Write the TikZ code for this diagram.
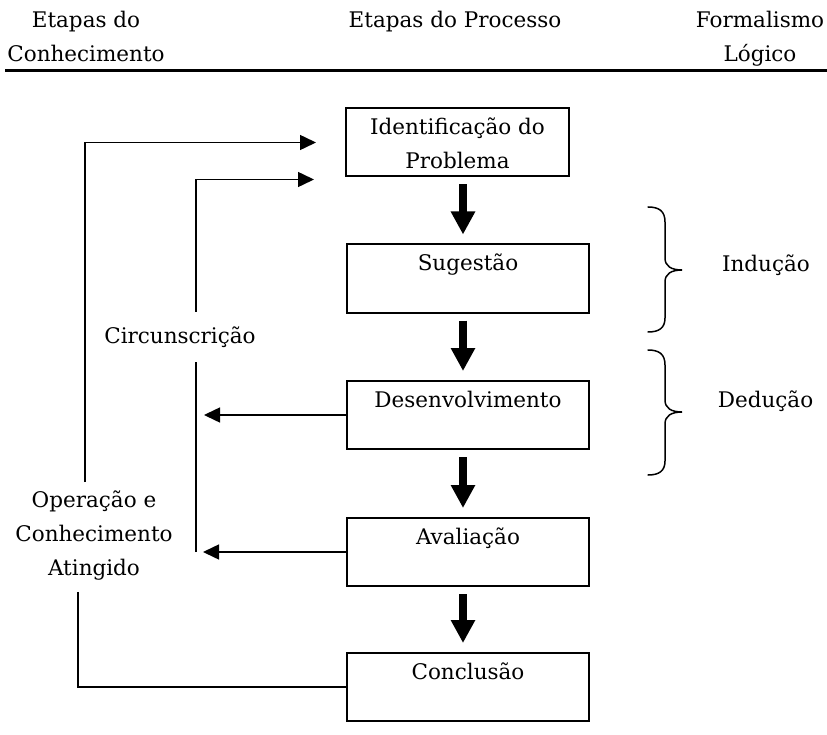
\documentclass[tikz,border=0pt]{standalone}
\usepackage{fontspec}
\setmainfont{DejaVu Serif}
\usetikzlibrary{arrows.meta,calc}
\begin{document}
\begin{tikzpicture}[x=1pt,y=-1pt,
  lbl/.style={font=\fontsize{21.5}{34}\selectfont, inner sep=0pt, align=center},
  stage/.style={draw, line width=2pt, minimum width=242pt, minimum height=68pt, inner sep=0pt},
  bigarrow/.style={line width=7.5pt, -{Triangle[length=23pt,width=23pt]},
                   shorten <=7pt, shorten >=9pt},
  thinarrow/.style={line width=1.5pt, -{Triangle[length=16pt,width=15pt]}},
  thinline/.style={line width=1.5pt},
  bracepath/.style={line width=1.5pt, line cap=round}
]
\useasboundingbox (0,0) rectangle (827,735);

% column headings and rule (base anchor sits on the last line)
\node[lbl, anchor=base] (hknow) at (86,62) {Etapas do\\Conhecimento};
\node[lbl, anchor=base] (hproc) at (455,28) {Etapas do Processo};
\node[lbl, anchor=base] (hform) at (760,62) {Formalismo\\Lógico};
\draw[line width=3pt] (5,71) -- (827,71);

% process stages
\node[stage, minimum width=223pt] (ident) at (457.5,142.5) {};
\node[stage] (sug)    at (468,278.5) {};
\node[stage] (desenv) at (468,415) {};
\node[stage] (aval)   at (468,552) {};
\node[stage] (concl)  at (468,687) {};

\node[lbl, anchor=base] (identL)  at ($(ident.north)+(0,61)$)  {Identificação do\\Problema};
\node[lbl, anchor=base] (sugL)    at ($(sug.north)+(0,27)$)    {Sugestão};
\node[lbl, anchor=base] (desenvL) at ($(desenv.north)+(0,27)$) {Desenvolvimento};
\node[lbl, anchor=base] (avalL)   at ($(aval.north)+(0,27)$)   {Avaliação};
\node[lbl, anchor=base] (conclL)  at ($(concl.north)+(0,27)$)  {Conclusão};

% main flow
\coordinate (ax) at (463,0);
\draw[bigarrow] (ident.south -| ax) -- (sug.north -| ax);
\draw[bigarrow] (sug.south -| ax) -- (desenv.north -| ax);
\draw[bigarrow] (desenv.south -| ax) -- (aval.north -| ax);
\draw[bigarrow] (aval.south -| ax) -- (concl.north -| ax);

% knowledge side
\coordinate (outx) at (85,0);
\coordinate (outxb) at (78,0);
\coordinate (inx) at (196,0);
\node[lbl, anchor=base] (oper) at (94,575) {Operação e\\Conhecimento\\Atingido};

\coordinate (topin)  at ($(ident.west)+(-29,0)$);
\coordinate (lowin)  at ($(ident.south west)+(-31,2)$);

\draw[thinarrow] ($(oper.north -| outx)+(0,-8)$) |- (topin);
\draw[thinarrow] (aval.west -| inx) |- (lowin);
\node[lbl, fill=white, minimum height=50pt] (circ) at (180,337) {Circunscrição};

\draw[thinarrow] (desenv.west) -- ($(desenv.west -| inx)+(8,0)$);
\draw[thinarrow] (aval.west) -- ($(aval.west -| inx)+(7,0)$);
\draw[thinline] ($(oper.south -| outxb)+(0,12)$) |- (concl.west);

% logical formalism braces
\draw[bracepath] (648,207) .. controls (659,207) and (665,211) .. (665,222)
  -- (665,258) .. controls (665,266) and (671,270) .. (682,270)
  .. controls (671,270) and (665,274) .. (665,282)
  -- (665,318) .. controls (665,328) and (659,332) .. (648,332);
\draw[bracepath] (648,350) .. controls (659,350) and (665,354) .. (665,365)
  -- (665,400) .. controls (665,408) and (671,412) .. (682,412)
  .. controls (671,412) and (665,416) .. (665,424)
  -- (665,461) .. controls (665,471) and (659,475) .. (648,475);
\node[lbl, anchor=base] (indL) at (766,272) {Indução};
\node[lbl, anchor=base] (dedL) at (765.5,407) {Dedução};
\end{tikzpicture}
\end{document}
